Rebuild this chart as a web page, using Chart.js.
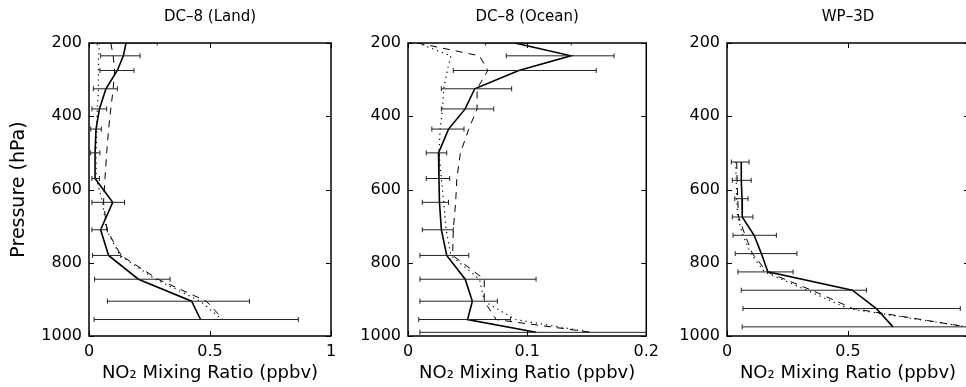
<!DOCTYPE html>
<html>
<head>
<meta charset="utf-8">
<script src="https://cdn.jsdelivr.net/npm/chart.js@4.4.0/dist/chart.umd.min.js"></script>
<style>
  html, body { margin: 0; padding: 0; background: #fff; }
  body { position: relative; width: 966px; height: 387px; overflow: hidden; }
  canvas { position: absolute; top: 0; }
</style>
</head>
<body>
<canvas id="land" width="346" height="387" style="left:0px"></canvas>
<canvas id="ocean" width="346" height="387" style="left:319px"></canvas>
<canvas id="wp3d" width="346" height="387" style="left:638px"></canvas>
<script>
// Data (x = NO2 ppbv, y = pressure hPa)
const landP    = [200, 235, 275, 325, 380, 435, 500, 570, 635, 710, 780, 845, 905, 955];
const landMean = [0.153, 0.142, 0.117, 0.070, 0.043, 0.029, 0.025, 0.025, 0.098, 0.048, 0.081, 0.204, 0.424, 0.461];
const landLo   = [0.034, 0.048, 0.045, 0.018, 0.012, 0.007, 0.007, 0.012, 0.012, 0.012, 0.015, 0.023, 0.076, 0.021];
const landHi   = [0.282, 0.211, 0.186, 0.117, 0.073, 0.051, 0.045, 0.043, 0.147, 0.076, 0.131, 0.335, 0.663, 0.865];
const landDash = [0.090, 0.100, 0.106, 0.100, 0.090, 0.081, 0.073, 0.066, 0.060, 0.074, 0.132, 0.285, 0.485, 0.555];
const landDot  = [0.043, 0.040, 0.039, 0.039, 0.034, 0.032, 0.029, 0.030, 0.056, 0.072, 0.128, 0.275, 0.460, 0.550];

const oceanP    = [200, 235, 275, 325, 380, 435, 500, 570, 635, 710, 780, 845, 905, 955, 990];
const oceanMean = [0.0897, 0.1367, 0.093, 0.056, 0.048, 0.034, 0.0256, 0.026, 0.0264, 0.028, 0.0325, 0.048, 0.054, 0.050, 0.1075];
const oceanLo   = [0.065, 0.0825, 0.038, 0.028, 0.028, 0.020, 0.0153, 0.0153, 0.012, 0.012, 0.010, 0.010, 0.010, 0.009, 0.010];
const oceanHi   = [0.137, 0.173, 0.158, 0.087, 0.072, 0.047, 0.0325, 0.035, 0.034, 0.038, 0.051, 0.1075, 0.075, 0.086, 0.21];
const oceanDash = [0.008, 0.060, 0.067, 0.058, 0.058, 0.051, 0.044, 0.041, 0.040, 0.038, 0.0375, 0.064, 0.064, 0.074, 0.154];
const oceanDot  = [0.008, 0.036, 0.033, 0.030, 0.029, 0.027, 0.026, 0.028, 0.030, 0.032, 0.036, 0.060, 0.064, 0.090, 0.154];

const wpP    = [525, 575, 625, 675, 725, 775, 825, 875, 925, 975];
const wpMean = [0.059, 0.059, 0.062, 0.063, 0.112, 0.142, 0.169, 0.518, 0.617, 0.686];
const wpLo   = [0.018, 0.022, 0.032, 0.022, 0.025, 0.034, 0.045, 0.059, 0.066, 0.063];
const wpHi   = [0.091, 0.100, 0.087, 0.107, 0.204, 0.289, 0.273, 0.576, 0.964, 1.02];
const wpDash = [0.040, 0.042, 0.044, 0.048, 0.075, 0.105, 0.165, 0.350, 0.520, 0.99];
const wpDot  = [0.036, 0.038, 0.040, 0.044, 0.066, 0.098, 0.155, 0.330, 0.500, 0.99];

const xTitle = 'NO\u2082 Mixing Ratio (ppbv)';

Chart.defaults.font.family = '"DejaVu Sans", sans-serif';
Chart.defaults.color = '#000';

// box round the plot with matlab style inward ticks
const boxTicks = {
    id: 'boxTicks',
    afterDatasetsDraw(chart) {
        const { ctx, chartArea: a, scales: { x, y } } = chart;
        const len = 5;
        ctx.save();
        ctx.strokeStyle = '#000';
        ctx.lineWidth = 1.5;
        ctx.strokeRect(a.left, a.top, a.right - a.left, a.bottom - a.top);
        ctx.lineWidth = 1;
        ctx.beginPath();
        x.ticks.forEach(t => {
            const px = Math.round(x.getPixelForValue(t.value)) + 0.5;
            ctx.moveTo(px, a.bottom); ctx.lineTo(px, a.bottom - len);
            ctx.moveTo(px, a.top); ctx.lineTo(px, a.top + len);
        });
        y.ticks.forEach(t => {
            const py = Math.round(y.getPixelForValue(t.value)) + 0.5;
            ctx.moveTo(a.left, py); ctx.lineTo(a.left + len, py);
            ctx.moveTo(a.right, py); ctx.lineTo(a.right - len, py);
        });
        ctx.stroke();
        ctx.restore();
    }
};

function makeDatasets(p, mean, lo, hi, dash, dot) {
    const bars = p.map((pr, i) => ({
        data: [{ x: lo[i], y: pr }, { x: hi[i], y: pr }],
        borderColor: '#222',
        borderWidth: 1,
        pointStyle: 'line',
        pointRotation: 90,
        pointRadius: 2.5,
        pointBorderWidth: 1,
        pointBorderColor: '#222'
    }));
    const line = (vals, width, dashArr) => ({
        data: p.map((pr, i) => ({ x: vals[i], y: pr })),
        borderColor: '#000',
        borderWidth: width,
        borderDash: dashArr,
        pointRadius: 0,
        tension: 0
    });
    return [...bars, line(mean, 1.6, []), line(dash, 1, [7, 6]), line(dot, 1.2, [1.2, 4])];
}

// labelMax: the WP-3D panel is cut at the right edge, so its "1" is not shown
function makeChart(id, title, xMax, xStep, labelMax, showYTitle, datasets) {
    new Chart(document.getElementById(id), {
        type: 'line',
        data: { datasets },
        options: {
            responsive: false,
            animation: false,
            devicePixelRatio: 1,
            events: [],
            layout: { padding: { left: 0, right: 15, top: 0, bottom: 0 } },
            scales: {
                x: {
                    type: 'linear',
                    min: 0,
                    max: xMax,
                    grid: { display: false, drawTicks: false },
                    border: { display: false },
                    ticks: {
                        stepSize: xStep,
                        padding: 6,
                        font: { size: 16 },
                        callback: v => (v > labelMax + 1e-9 ? '' : String(+v.toFixed(3)))
                    },
                    title: { display: true, text: xTitle, font: { size: 18 }, padding: { top: 0, bottom: 3 } },
                    afterFit: s => { s.height = 51; }
                },
                y: {
                    type: 'linear',
                    reverse: true,
                    min: 200,
                    max: 1000,
                    grid: { display: false, drawTicks: false },
                    border: { display: false },
                    ticks: { stepSize: 200, padding: 7, font: { size: 16 }, callback: v => String(v) },
                    title: { display: showYTitle, text: 'Pressure (hPa)', font: { size: 19 }, padding: { top: 8, bottom: 0 } },
                    afterFit: s => { s.width = 89; }
                }
            },
            plugins: {
                legend: { display: false },
                tooltip: { enabled: false },
                title: {
                    display: true,
                    text: title,
                    fullSize: false,
                    font: { size: 15, weight: 'normal' },
                    padding: { top: 8.5, bottom: 16.5 }
                }
            }
        },
        plugins: [boxTicks]
    });
}

makeChart('land', 'DC\u20138 (Land)', 1, 0.5, 1, true,
    makeDatasets(landP, landMean, landLo, landHi, landDash, landDot));
makeChart('ocean', 'DC\u20138 (Ocean)', 0.2, 0.1, 0.2, false,
    makeDatasets(oceanP, oceanMean, oceanLo, oceanHi, oceanDash, oceanDot));
makeChart('wp3d', 'WP\u20133D', 1, 0.5, 0.5, false,
    makeDatasets(wpP, wpMean, wpLo, wpHi, wpDash, wpDot));
</script>
</body>
</html>
